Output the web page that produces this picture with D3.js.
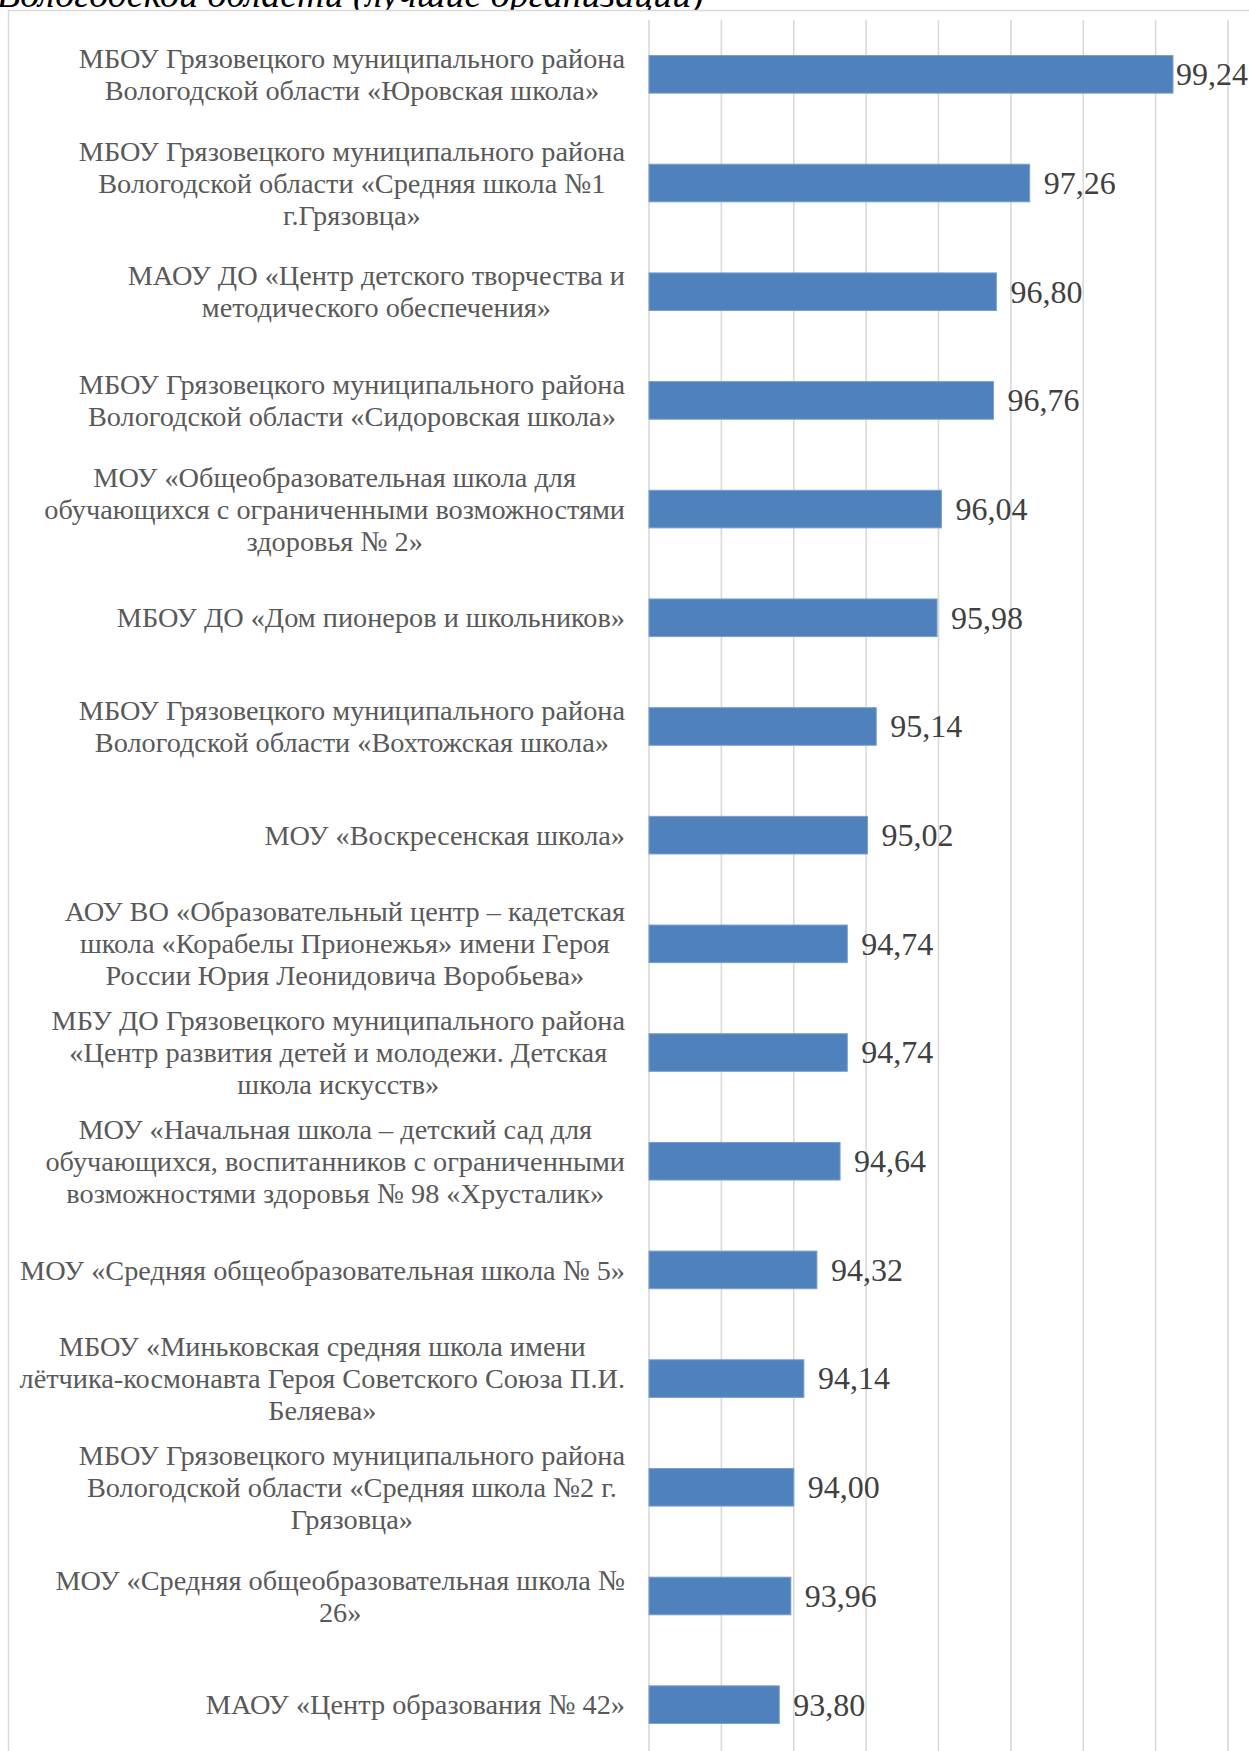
<!DOCTYPE html>
<html>
  <head>
    <meta charset="utf-8">
    <title>Лучшие организации</title>
    <script src="https://d3js.org/d3.v7.min.js"></script>
    <style>
      body { margin: 0; background: #fff; }
      svg { display: block; }
    </style>
  </head>
  <body>
    <svg id="chart" width="1249" height="1751"></svg>
    <script>

    // category labels, one array of lines per organisation (top to bottom)
    var labelLines = [
      ["МБОУ Грязовецкого муниципального района", "Вологодской области «Юровская школа»"],
      ["МБОУ Грязовецкого муниципального района", "Вологодской области «Средняя школа №1", "г.Грязовца»"],
      ["МАОУ ДО «Центр детского творчества и", "методического обеспечения»"],
      ["МБОУ Грязовецкого муниципального района", "Вологодской области «Сидоровская школа»"],
      ["МОУ «Общеобразовательная школа для", "обучающихся с ограниченными возможностями", "здоровья № 2»"],
      ["МБОУ ДО «Дом пионеров и школьников»"],
      ["МБОУ Грязовецкого муниципального района", "Вологодской области «Вохтожская школа»"],
      ["МОУ «Воскресенская школа»"],
      ["АОУ ВО «Образовательный центр – кадетская", "школа «Корабелы Прионежья» имени Героя", "России Юрия Леонидовича Воробьева»"],
      ["МБУ ДО Грязовецкого муниципального района", "«Центр развития детей и молодежи. Детская", "школа искусств»"],
      ["МОУ «Начальная школа – детский сад для", "обучающихся, воспитанников с ограниченными", "возможностями здоровья № 98 «Хрусталик»"],
      ["МОУ «Средняя общеобразовательная школа № 5»"],
      ["МБОУ «Миньковская средняя школа имени", "лётчика-космонавта Героя Советского Союза П.И.", "Беляева»"],
      ["МБОУ Грязовецкого муниципального района", "Вологодской области «Средняя школа №2 г.", "Грязовца»"],
      ["МОУ «Средняя общеобразовательная школа №", "26»"],
      ["МАОУ «Центр образования № 42»"]
    ];

    var values = [99.24, 97.26, 96.80, 96.76, 96.04, 95.98, 95.14, 95.02,
                  94.74, 94.74, 94.64, 94.32, 94.14, 94.00, 93.96, 93.80];

    var xTicks = [92, 93, 94, 95, 96, 97, 98, 99, 100];

    var titleTail = "Вологодской области (лучшие организации)";

    var data = values.map(function(v, i){ return {id: i, lines: labelLines[i], value: v}; });

    var svg = d3.select("#chart");
    var W = 1249;

    var plotLeft = 649, plotRight = 1228, plotTop = 20, plotBottom = 1759;
    var labelRight = 625;

    var sx = d3.scaleLinear().domain([92, 100]).range([plotLeft, plotRight]);
    var sy = d3.scaleBand()
      .domain(data.map(function(d){ return d.id; }))
      .range([plotTop, plotBottom])
      .paddingInner(0.654)
      .paddingOuter(0.327);

    // title line, only its lower part shows at the top edge
    svg.append("text")
      .attr("x", 704)
      .attr("y", 7)
      .attr("text-anchor", "end")
      .style("font-family", "'Liberation Serif', 'Times New Roman', serif")
      .style("font-style", "italic")
      .style("font-size", "38px")
      .style("fill", "#000")
      .text(titleTail);

    // chart frame
    svg.append("rect")
      .attr("x", 8.5).attr("y", 10.5)
      .attr("width", W + 10).attr("height", 1800)
      .attr("fill", "#fff")
      .attr("stroke", "#d9d9d9")
      .attr("stroke-width", 1.5);

    // vertical gridlines
    svg.append("g")
      .selectAll("line")
      .data(xTicks)
      .enter()
      .append("line")
        .attr("x1", function(d){ return sx(d); })
        .attr("x2", function(d){ return sx(d); })
        .attr("y1", plotTop)
        .attr("y2", plotBottom)
        .attr("stroke", "#d9d9d9")
        .attr("stroke-width", 1.6);

    // bars
    svg.append("g")
      .selectAll("rect")
      .data(data)
      .enter()
      .append("rect")
        .attr("x", sx(92))
        .attr("y", function(d){ return sy(d.id); })
        .attr("width", function(d){ return sx(d.value) - sx(92); })
        .attr("height", sy.bandwidth())
        .attr("fill", "#4f81bd")
        .attr("stroke", "#7a9fcf")
        .attr("stroke-width", 1);

    // value labels
    var fmt = function(v){ return v.toFixed(2).replace(".", ","); };
    svg.append("g")
      .selectAll("text")
      .data(data)
      .enter()
      .append("text")
        .attr("x", function(d){ return sx(d.value) + 14; })
        .attr("y", function(d){ return sy(d.id) + sy.bandwidth() / 2; })
        .attr("dy", "0.34em")
        .style("font-family", "'Liberation Serif', 'Times New Roman', serif")
        .style("font-size", "32px")
        .style("fill", "#404040")
        .text(function(d){ return fmt(d.value); })
        .each(function(){
          // keep the label inside the chart area
          var w = this.getComputedTextLength();
          var x = +this.getAttribute("x");
          if (x + w > W - 1) this.setAttribute("x", W - 1 - w);
        });

    // category labels: lines centred in a block, block right aligned to the axis
    var lineH = 32;
    var cat = svg.append("g")
      .selectAll("g")
      .data(data)
      .enter()
      .append("g");

    cat.each(function(d){
      var g = d3.select(this);
      var cy = sy(d.id) + sy.bandwidth() / 2;
      var n = d.lines.length;
      var t = g.selectAll("text")
        .data(d.lines)
        .enter()
        .append("text")
          .attr("y", function(l, i){ return cy + (i - (n - 1) / 2) * lineH; })
          .attr("dy", "0.34em")
          .attr("text-anchor", "middle")
          .style("font-family", "'Liberation Serif', 'Times New Roman', serif")
          .style("font-size", "28.3px")
          .style("fill", "#595959")
          .text(function(l){ return l; });
      var maxW = d3.max(t.nodes(), function(nd){ return nd.getComputedTextLength(); });
      t.attr("x", labelRight - maxW / 2);
    });

    </script>
  </body>
</html>
